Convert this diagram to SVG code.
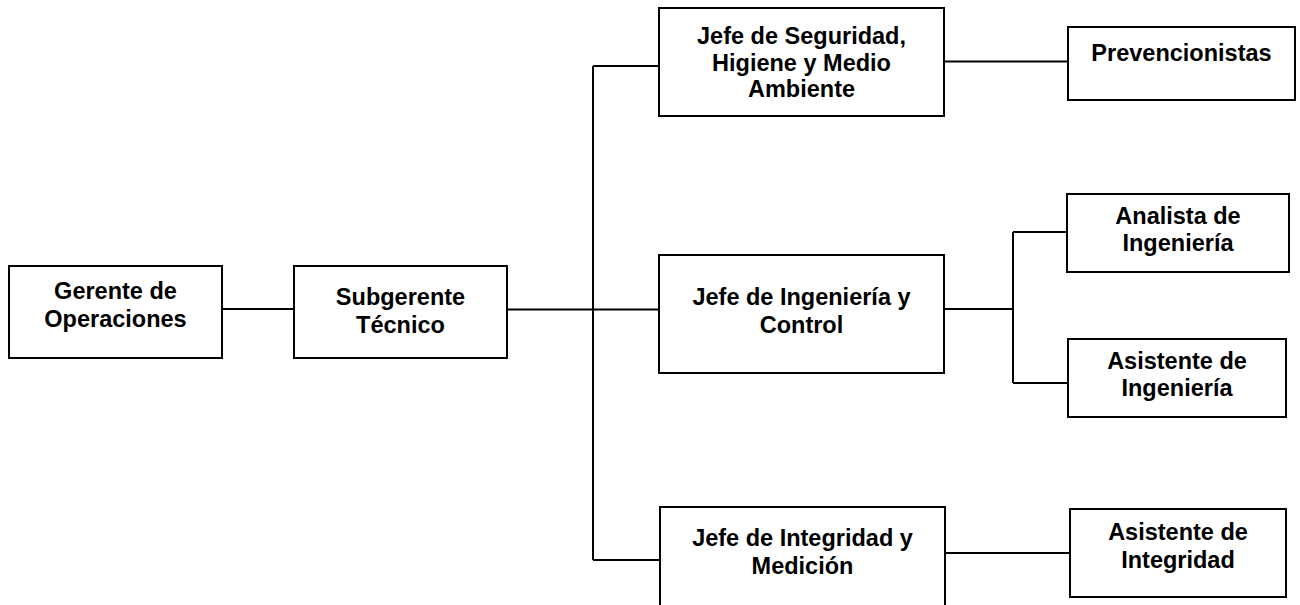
<svg xmlns="http://www.w3.org/2000/svg" width="1300" height="605" viewBox="0 0 1300 605">
<style>
.box{fill:#fff;stroke:#000;stroke-width:2}
.ln{fill:none;stroke:#000;stroke-width:2}
text{font-family:"Liberation Sans",Arial,sans-serif;font-weight:bold;font-size:23.5px;fill:#000;text-anchor:middle}
</style>
<rect width="1300" height="605" fill="#fff"/>
<g id="connectors">
<path class="ln" d="M222 309H294"/>
<path class="ln" d="M507 309.5H659"/>
<path class="ln" d="M593 66V560"/>
<path class="ln" d="M593 66H659"/>
<path class="ln" d="M593 560H660"/>
<path class="ln" d="M944 61.5H1068"/>
<path class="ln" d="M944 309H1013"/>
<path class="ln" d="M1013 232V383"/>
<path class="ln" d="M1013 232H1067"/>
<path class="ln" d="M1013 383H1068"/>
<path class="ln" d="M945 553H1070"/>
</g>
<g id="gerente">
<rect class="box" x="9" y="266" width="213" height="92"/>
<text x="115.5" y="299">Gerente de</text>
<text x="115.5" y="327">Operaciones</text>
</g>
<g id="subgerente">
<rect class="box" x="294" y="266" width="213" height="92"/>
<text x="400.5" y="305">Subgerente</text>
<text x="400.5" y="333">Técnico</text>
</g>
<g id="jefe-seguridad">
<rect class="box" x="659" y="8" width="285" height="108"/>
<text x="801.5" y="44">Jefe de Seguridad,</text>
<text x="801.5" y="71">Higiene y Medio</text>
<text x="801.5" y="97">Ambiente</text>
</g>
<g id="prevencionistas">
<rect class="box" x="1068" y="27" width="227" height="73"/>
<text x="1181.5" y="61">Prevencionistas</text>
</g>
<g id="jefe-ingenieria">
<rect class="box" x="659" y="255" width="285" height="118"/>
<text x="801.5" y="305">Jefe de Ingeniería y</text>
<text x="801.5" y="333">Control</text>
</g>
<g id="analista-ingenieria">
<rect class="box" x="1067" y="194" width="222" height="78"/>
<text x="1178" y="224">Analista de</text>
<text x="1178" y="251">Ingeniería</text>
</g>
<g id="asistente-ingenieria">
<rect class="box" x="1068" y="339" width="218" height="78"/>
<text x="1177" y="369">Asistente de</text>
<text x="1177" y="396">Ingeniería</text>
</g>
<g id="jefe-integridad">
<rect class="box" x="660" y="507" width="285" height="120"/>
<text x="802.5" y="546">Jefe de Integridad y</text>
<text x="802.5" y="574">Medición</text>
</g>
<g id="asistente-integridad">
<rect class="box" x="1070" y="509" width="216" height="88"/>
<text x="1178" y="540">Asistente de</text>
<text x="1178" y="568">Integridad</text>
</g>
</svg>
